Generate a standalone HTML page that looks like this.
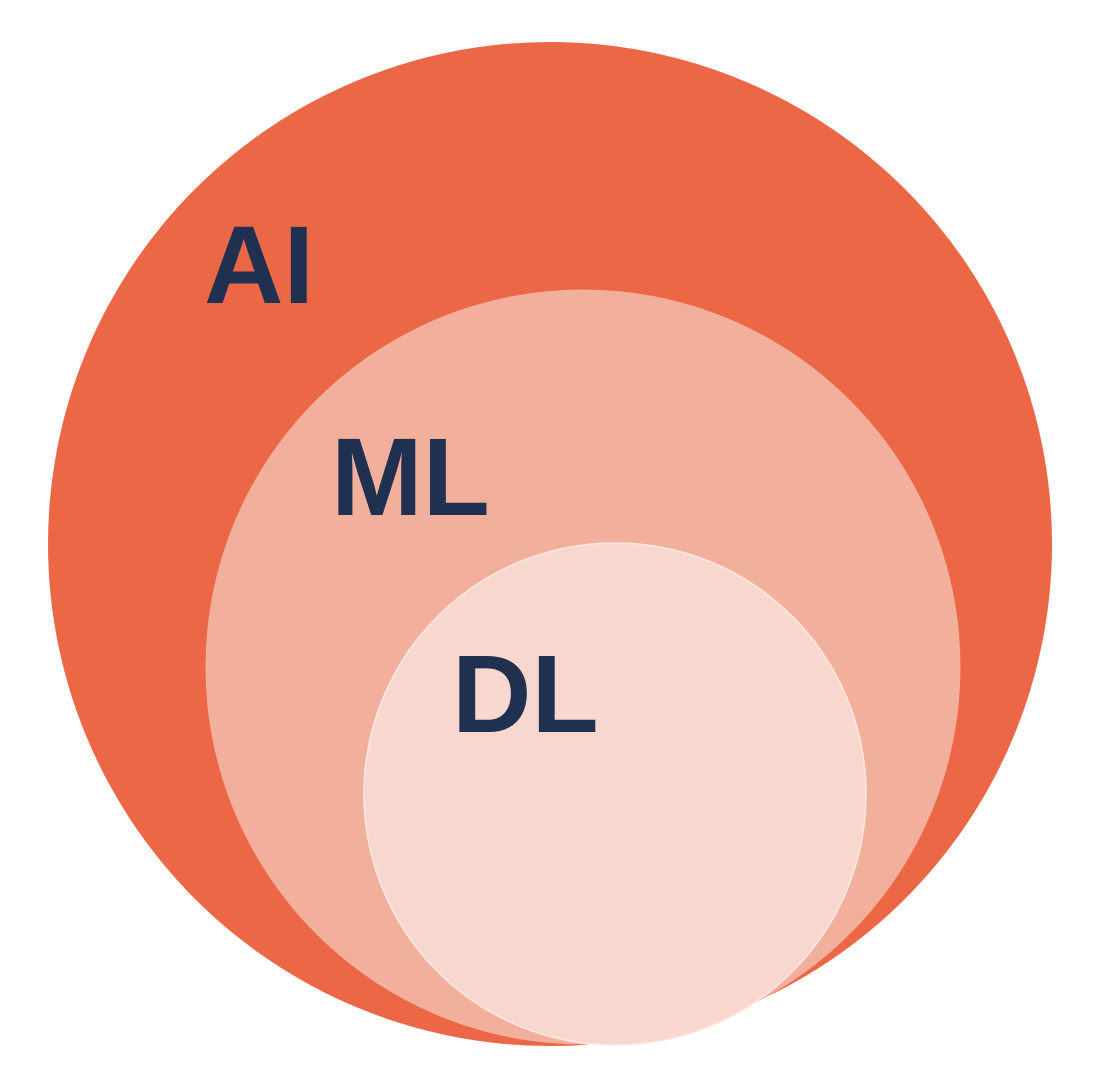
<!DOCTYPE html>
<html>
<head>
<meta charset="utf-8">
<style>
html,body{margin:0;padding:0;background:#fff;}
svg{display:block;}
text{font-family:"Liberation Sans",sans-serif;font-weight:bold;fill:#1F3050;}
</style>
</head>
<body>
<svg width="1096" height="1088" viewBox="0 0 1096 1088" xmlns="http://www.w3.org/2000/svg">
  <circle cx="550" cy="544" r="502" fill="#EC6746"/>
  <circle cx="583" cy="667" r="377.5" fill="#F2B09C"/>
  <circle cx="615" cy="794" r="251" fill="#F8D8CE" stroke="#FBE9E3" stroke-width="1.5"/>
  <text x="204" y="303" font-size="110">AI</text>
  <text x="331" y="515" font-size="110">ML</text>
  <text x="452" y="732" font-size="110">DL</text>
</svg>
</body>
</html>
